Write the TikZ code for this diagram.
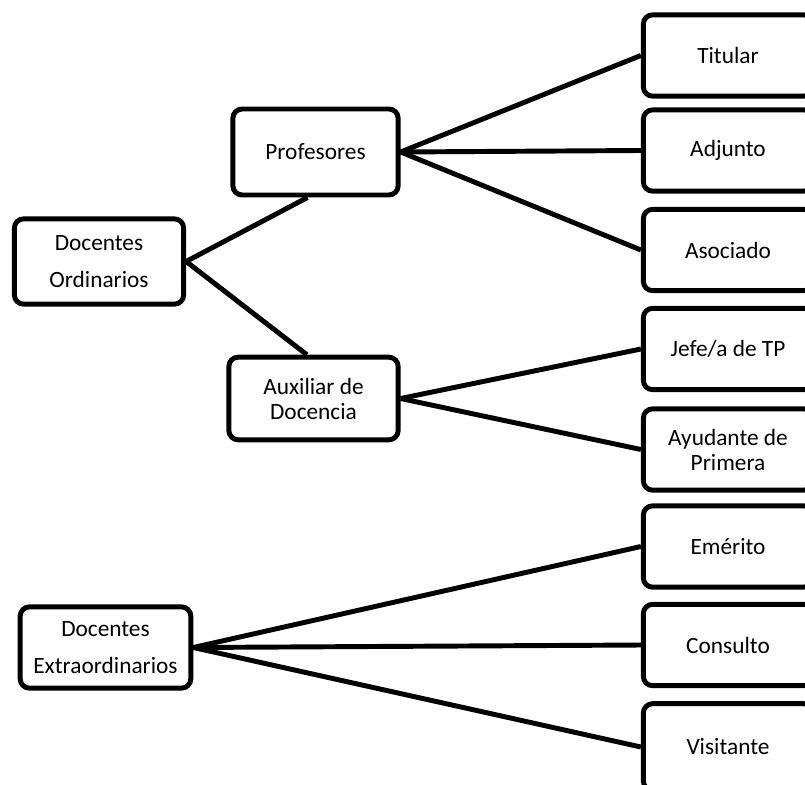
\documentclass[tikz,border=0pt]{standalone}
\usepackage{fontspec}
\setmainfont{Carlito}
\usetikzlibrary{calc}

\tikzset{
    box/.style={draw, line width=3.7pt, rounded corners=7pt, inner sep=0pt,
        align=center, font=\fontsize{17.5}{21}\selectfont},
    leaf/.style={box, minimum width=127pt, minimum height=61pt},
    link/.style={line width=3.7pt}
}

\begin{document}
\begin{tikzpicture}[x=0.75pt, y=-0.75pt]
    \useasboundingbox (0,0) rectangle (805,784);
    \clip (0,0) rectangle (805,784);

    % Root nodes
    \node[box, minimum width=127pt, minimum height=64pt,
          font=\fontsize{17.5}{27.75}\selectfont] (ord) at (99,261.5) {Docentes\\Ordinarios};
    \node[box, minimum width=128pt, minimum height=61pt,
          font=\fontsize{17.5}{27.75}\selectfont] (ext) at (105.5,647.5) {Docentes\\Extraordinarios};

    % Middle level
    \node[box, minimum width=124pt, minimum height=64.5pt] (prof) at (315.5,152) {Profesores};
    \node[box, minimum width=127pt, minimum height=62pt,
          font=\fontsize{17.5}{18.75}\selectfont] (aux) at (313.5,398.5) {Auxiliar de\\Docencia};

    % Leaves
    \node[leaf] (tit) at (728,55.5) {Titular};
    \node[leaf] (adj) at (728,150.5) {Adjunto};
    \node[leaf] (aso) at (728,250) {Asociado};
    \node[leaf] (jefe) at (728,349) {Jefe/a de TP};
    \node[leaf, font=\fontsize{17.5}{18.75}\selectfont] (ayu) at (728,449.5) {Ayudante de\\Primera};
    \node[leaf] (emer) at (728,546.5) {Emérito};
    \node[leaf] (cons) at (728,645) {Consulto};
    \node[leaf, minimum height=65pt] (visit) at (728,747) {Visitante};

    % Connections
    \draw[link] (ord.east) -- ([xshift=-6pt]prof.south);
    \draw[link] (ord.east) -- ([xshift=-5pt]aux.north);
    \draw[link] (prof.east) -- (tit.west);
    \draw[link] (prof.east) -- (adj.west);
    \draw[link] (prof.east) -- (aso.west);
    \draw[link] (aux.east) -- (jefe.west);
    \draw[link] (aux.east) -- (ayu.west);
    \draw[link] (ext.east) -- (emer.west);
    \draw[link] (ext.east) -- (cons.west);
    \draw[link] (ext.east) -- (visit.west);
\end{tikzpicture}
\end{document}
